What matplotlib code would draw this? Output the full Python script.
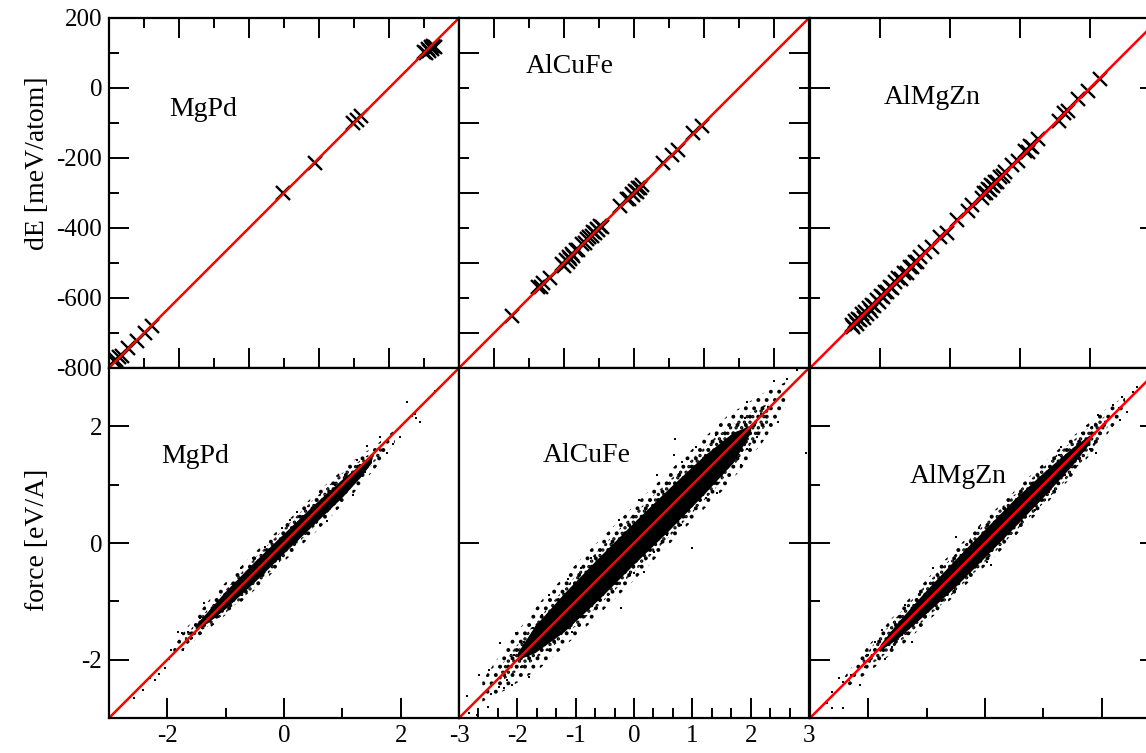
import matplotlib
matplotlib.use("Agg")
import matplotlib.pyplot as plt
from matplotlib.ticker import FixedLocator

plt.rcParams['font.family'] = ['Liberation Serif', 'DejaVu Serif']
plt.rcParams['axes.unicode_minus'] = False
plt.rcParams['hatch.linewidth'] = 1.6
plt.rcParams['hatch.color'] = 'black'

# --- energies (meV/atom): reference vs fit ---
mgpd_e_x = [-785, -779, -772, -764, -745, -721, -697, -678, -302, -212, -102, -91, -79,
            100, 106, 110, 115, 119, 123, 127, 132]
mgpd_e_y = [-781, -776, -769, -767, -743, -724, -699, -681, -300, -213, -99, -92, -81,
            104, 99, 111, 107, 116, 112, 121, 118]

alcufe_e_x = [-650, -573, -565, -559, -540, -507, -500, -495, -490, -486, -482, -477, -473, -466,
              -459, -449, -441, -435, -428, -421, -416, -411, -406, -402, -396, -392, -340, -321,
              -313, -307, -302, -297, -292, -288, -283, -278, -216, -192, -175, -131, -107]
alcufe_e_y = [-652, -569, -568, -557, -543, -503, -508, -491, -497, -482, -489, -473, -480, -462,
              -463, -446, -444, -432, -426, -424, -412, -414, -403, -407, -393, -397, -337, -318,
              -316, -303, -306, -293, -296, -285, -287, -276, -214, -190, -177, -129, -109]

almgzn_e_x = [-681, -676, -671, -667, -662, -657, -652, -647, -642, -637, -632, -627, -622, -616,
              -610, -604, -598, -592, -586, -579, -572, -565, -558, -548, -541, -532, -524, -515,
              -508, -500, -493, -486, -471, -452, -429, -410, -381, -348, -338, -310, -303, -297,
              -292, -287, -282, -277, -271, -265, -258, -250, -243, -224, -205, -185, -178, -171,
              -165, -148, -90, -75, -62, -33, -5, 29]
almgzn_e_y = [-676, -684, -667, -673, -659, -662, -647, -656, -640, -645, -628, -636, -619, -622,
              -605, -612, -595, -598, -582, -583, -568, -571, -554, -544, -545, -528, -528, -511,
              -512, -496, -497, -482, -468, -455, -426, -413, -378, -351, -335, -313, -299, -301,
              -288, -291, -278, -281, -268, -268, -255, -252, -240, -221, -208, -181, -182, -167,
              -168, -145, -93, -72, -65, -30, -8, 27]

# --- forces (eV/A): cloud read as nested bands (solid core, denser and sparser rims) ---
mgpd_in_x = [-1.5, -1.3, -1.0, -0.5, 0.0, 0.5, 1.0, 1.3, 1.5]
mgpd_in_lo = [-1.48, -1.36, -1.12, -0.66, -0.17, 0.31, 0.79, 1.12, 1.38]
mgpd_in_hi = [-1.38, -1.16, -0.82, -0.31, 0.17, 0.65, 1.10, 1.34, 1.48]
mgpd_mid_x = [-1.7, -1.4, -1.0, -0.5, 0.0, 0.5, 1.0, 1.4, 1.7]
mgpd_mid_lo = [-1.76, -1.50, -1.20, -0.76, -0.25, 0.26, 0.78, 1.22, 1.56]
mgpd_mid_hi = [-1.60, -1.24, -0.80, -0.26, 0.25, 0.74, 1.20, 1.48, 1.72]
mgpd_out_x = [-1.9, -1.6, -1.2, -0.6, 0.0, 0.6, 1.2, 1.6, 1.9]
mgpd_out_lo = [-1.98, -1.72, -1.40, -0.90, -0.32, 0.24, 0.86, 1.32, 1.72]
mgpd_out_hi = [-1.78, -1.36, -0.88, -0.26, 0.32, 0.90, 1.42, 1.70, 1.94]
mgpd_f_x = [2.58, 2.10, 2.25, 2.33, 2.27, 2.19, 1.99, 1.87, 1.65, 1.42, 1.76, 1.59, 1.25, 1.39,
            1.30, 1.07, 1.19, 0.87, 0.70, 0.73, 0.22, 0.10, -0.04, -0.33, -0.53, -0.73, -0.70,
            -0.93, -1.38, -1.44, -1.81, -1.75, -1.64, -1.50, -1.41, -1.70, -1.58, -1.73, -1.93,
            -1.98, -2.04, -2.15, -2.21, -2.30, -2.41, -2.58]
mgpd_f_y = [2.61, 2.41, 2.22, 2.07, 2.14, 2.17, 1.82, 1.69, 1.81, 1.66, 1.54, 1.59, 1.42, 1.22,
            1.34, 1.17, 0.82, 0.99, 0.65, 0.37, 0.54, 0.39, 0.25, -0.06, -0.26, -0.43, -0.72,
            -0.89, -1.03, -1.29, -1.52, -1.55, -1.52, -1.41, -1.46, -1.69, -1.62, -1.83, -1.83,
            -1.98, -2.15, -2.24, -2.35, -2.32, -2.52, -2.66]

alcufe_in_x = [-2.0, -1.7, -1.2, -0.6, 0.0, 0.6, 1.2, 1.7, 2.0]
alcufe_in_lo = [-2.00, -1.88, -1.52, -0.96, -0.36, 0.22, 0.84, 1.38, 1.90]
alcufe_in_hi = [-1.88, -1.42, -0.86, -0.24, 0.36, 0.94, 1.50, 1.90, 2.02]
alcufe_mid_x = [-2.3, -1.9, -1.4, -0.7, 0.0, 0.7, 1.4, 1.9, 2.3]
alcufe_mid_lo = [-2.38, -2.14, -1.78, -1.16, -0.50, 0.20, 0.94, 1.56, 2.06]
alcufe_mid_hi = [-2.12, -1.62, -1.02, -0.22, 0.50, 1.16, 1.82, 2.18, 2.40]
alcufe_out_x = [-2.6, -2.2, -1.6, -0.8, 0.0, 0.8, 1.6, 2.2, 2.6]
alcufe_out_lo = [-2.72, -2.52, -2.14, -1.42, -0.64, 0.18, 0.98, 1.72, 2.32]
alcufe_out_hi = [-2.36, -1.78, -1.00, -0.16, 0.64, 1.42, 2.18, 2.56, 2.76]
alcufe_f_x = [2.80, 2.63, 2.40, 2.94, 2.46, 2.29, 2.17, 1.94, 1.83, 1.91, 2.11, 1.94, 1.83, 1.66,
              1.60, 1.40, 1.43, 1.23, 1.31, 1.06, 0.71, 0.69, 0.83, 0.40, 0.09, -0.26, 1.00, 0.80,
              0.57, 0.34, 0.17, 0.00, -0.23, -0.63, -0.74, -0.91, -1.14, -1.46, -1.57, -1.06,
              -1.49, -1.74, -2.03, -1.89, -2.29, -2.06, -1.94, -1.80, -2.17, -2.23, -2.09, -2.31,
              -2.49, -2.66, -2.46, -2.86, -2.51, -2.83, -2.69]
alcufe_f_y = [2.97, 2.81, 2.77, 1.55, 2.07, 2.34, 2.22, 2.41, 2.17, 2.14, 1.82, 1.62, 1.34, 1.68,
              1.88, 1.85, 0.85, 0.77, 1.02, 1.65, 1.79, 1.51, 1.39, 1.17, 0.74, 0.39, -0.09, 0.31,
              0.14, -0.15, -0.49, -0.52, -1.12, -1.12, -0.26, -0.43, -0.61, -0.89, -1.23, -1.52,
              -1.83, -1.46, -1.55, -1.69, -1.72, -1.92, -2.12, -2.29, -2.35, -2.49, -2.43, -2.46,
              -2.18, -2.26, -2.58, -2.63, -2.81, -2.92, -2.95]

almgzn_in_x = [-1.8, -1.5, -1.0, -0.5, 0.0, 0.5, 1.0, 1.5, 1.8]
almgzn_in_lo = [-1.84, -1.64, -1.20, -0.74, -0.24, 0.27, 0.79, 1.34, 1.72]
almgzn_in_hi = [-1.74, -1.36, -0.80, -0.27, 0.24, 0.75, 1.21, 1.64, 1.86]
almgzn_mid_x = [-2.1, -1.8, -1.3, -0.6, 0.0, 0.6, 1.3, 1.8, 2.1]
almgzn_mid_lo = [-2.18, -1.98, -1.56, -0.92, -0.33, 0.28, 0.98, 1.56, 1.98]
almgzn_mid_hi = [-1.98, -1.60, -1.02, -0.28, 0.33, 0.92, 1.58, 2.00, 2.20]
almgzn_out_x = [-2.4, -2.0, -1.4, -0.7, 0.0, 0.7, 1.4, 2.0, 2.4]
almgzn_out_lo = [-2.50, -2.22, -1.74, -1.08, -0.40, 0.30, 1.04, 1.74, 2.26]
almgzn_out_hi = [-2.28, -1.76, -1.06, -0.30, 0.40, 1.08, 1.74, 2.24, 2.52]
almgzn_f_x = [2.60, 2.54, 2.34, 2.29, 2.43, 2.31, 2.20, 1.94, 1.83, 1.66, 1.77, 1.91, 1.80, 1.31,
              1.26, 1.37, 1.09, 0.91, 0.86, 0.63, 0.11, 0.03, -0.11, -0.49, -0.89, -1.09, -1.37,
              -1.26, -1.43, -1.60, -1.77, -1.89, -1.71, -2.00, -2.06, -2.17, -2.14, -2.29, -2.51,
              -2.43, -2.34, -2.63, -2.71, -2.43, -2.63]
almgzn_f_y = [2.68, 2.59, 2.51, 2.31, 2.25, 2.11, 2.37, 2.19, 1.99, 1.88, 1.79, 1.54, 1.62, 1.65,
              1.51, 1.17, 0.88, 1.17, 0.57, 0.37, -0.38, -0.32, 0.25, 0.11, -0.43, -0.83, -1.06,
              -1.69, -1.58, -1.78, -1.49, -1.69, -1.98, -1.92, -2.12, -2.18, -2.43, -2.26, -2.32,
              -2.38, -2.35, -2.55, -2.75, -2.83, -2.83]

e_lim = (-800, 200)
f_lim = (-3, 3)

W, H = 1146, 753
fig = plt.figure(figsize=(W / 100, H / 100), dpi=100)


def panel(x0, y0):
    return fig.add_axes([x0 / W, 1 - (y0 + 350) / H, 350 / W, 350 / H])


def ticks(ax, xmaj, xmin, ymaj, ymin, left=True, right=False, top=False, bottom=True,
          xlab=False, ylab=False):
    ax.xaxis.set_major_locator(FixedLocator(xmaj))
    ax.xaxis.set_minor_locator(FixedLocator(xmin))
    ax.yaxis.set_major_locator(FixedLocator(ymaj))
    ax.yaxis.set_minor_locator(FixedLocator(ymin))
    ax.tick_params(which='both', direction='in', width=1.4, left=left, right=right,
                   top=top, bottom=bottom, labelleft=ylab, labelbottom=xlab,
                   labelsize=18, pad=5)
    ax.tick_params(which='major', length=14.5)
    ax.tick_params(which='minor', length=7.2)
    for s in ax.spines.values():
        s.set_linewidth(1.6)
        s.set_zorder(10)


def energy_panel(ax, x, y, name, tx, ty):
    ax.plot(x, y, 'x', color='black', ms=10, mew=1.7, zorder=3)
    ax.axline((0, 0), slope=1, color='red', lw=1.8, zorder=5)
    ax.set_xlim(e_lim)
    ax.set_ylim(e_lim)
    ax.text(tx, ty, name, transform=ax.transAxes, fontsize=20, va='baseline')


def force_panel(ax, bands, x, y, name, tx, ty):
    (ox, olo, ohi), (mx, mlo, mhi), (bx, blo, bhi) = bands
    ax.fill_between(ox, olo, ohi, facecolor='none', hatch='..', lw=0, zorder=2)
    ax.fill_between(mx, mlo, mhi, facecolor='none', hatch='...', lw=0, zorder=2)
    ax.fill_between(bx, blo, bhi, color='black', lw=0, zorder=2)
    ax.plot(x, y, 's', color='black', ms=1.8, mew=0, zorder=3)
    ax.axline((0, 0), slope=1, color='red', lw=1.8, zorder=5)
    ax.set_xlim(f_lim)
    ax.set_ylim(f_lim)
    ax.text(tx, ty, name, transform=ax.transAxes, fontsize=20, va='baseline')


even = list(range(-800, 201, 200))
odd = list(range(-700, 201, 200))
hund = list(range(-800, 201, 100))

ax = panel(109, 18)
energy_panel(ax, mgpd_e_x, mgpd_e_y, 'MgPd', 0.171, 0.72)
ticks(ax, even, hund, even, hund, top=True, ylab=True)

ax = panel(459, 18)
energy_panel(ax, alcufe_e_x, alcufe_e_y, 'AlCuFe', 0.191, 0.843)
ticks(ax, odd, even, odd, even, right=True, top=True)

ax = panel(810, 18)
energy_panel(ax, almgzn_e_x, almgzn_e_y, 'AlMgZn', 0.211, 0.754)
ticks(ax, even, [], [-800, -400, 0], [-600, -200, 200], right=True, top=True)

ax = panel(109, 368)
force_panel(ax, [(mgpd_out_x, mgpd_out_lo, mgpd_out_hi), (mgpd_mid_x, mgpd_mid_lo, mgpd_mid_hi),
                 (mgpd_in_x, mgpd_in_lo, mgpd_in_hi)],
            mgpd_f_x, mgpd_f_y, 'MgPd', 0.149, 0.729)
ticks(ax, [-2, 0, 2], [-3, -1, 1, 3], [-2, 0, 2], [-1, 1], xlab=True, ylab=True)

ax = panel(459, 368)
force_panel(ax, [(alcufe_out_x, alcufe_out_lo, alcufe_out_hi),
                 (alcufe_mid_x, alcufe_mid_lo, alcufe_mid_hi),
                 (alcufe_in_x, alcufe_in_lo, alcufe_in_hi)],
            alcufe_f_x, alcufe_f_y, 'AlCuFe', 0.24, 0.731)
thirds = [i / 3 for i in range(-9, 10) if i % 3]
ticks(ax, [-3, -2, -1, 0, 1, 2, 3], thirds, [-3, 0, 3], [], right=True, xlab=True)

ax = panel(810, 368)
force_panel(ax, [(almgzn_out_x, almgzn_out_lo, almgzn_out_hi),
                 (almgzn_mid_x, almgzn_mid_lo, almgzn_mid_hi),
                 (almgzn_in_x, almgzn_in_lo, almgzn_in_hi)],
            almgzn_f_x, almgzn_f_y, 'AlMgZn', 0.286, 0.671)
ticks(ax, [-2, 0, 2], [-3, -1, 1, 3], [-2, 0, 2], [-1, 1], right=True)

fig.text(0.033, 1 - 163 / H, 'dE [meV/atom]', rotation=90, fontsize=20, ha='center', va='center')
fig.text(0.033, 1 - 540 / H, 'force [eV/A]', rotation=90, fontsize=20, ha='center', va='center')

fig.savefig('out.png', dpi=100)
